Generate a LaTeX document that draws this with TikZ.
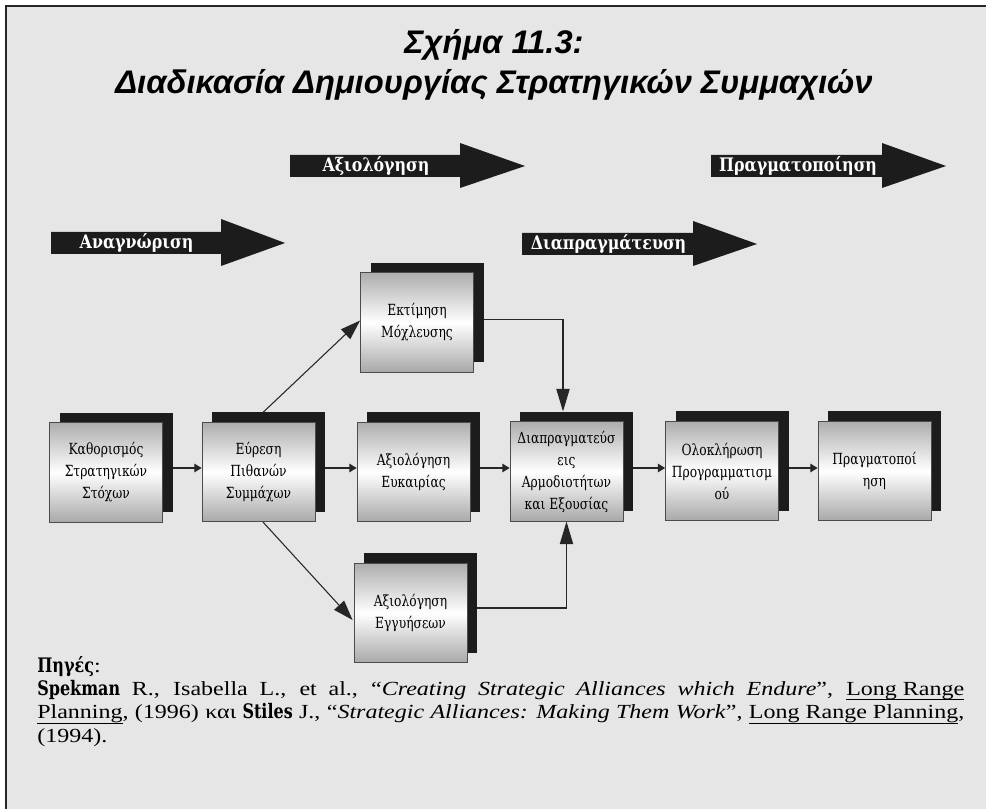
\documentclass[tikz,border=0pt]{standalone}
\usepackage{fontspec}
\setmainfont{Liberation Serif}
\newfontfamily\titlefont{Liberation Sans}
\newfontfamily\boxfont[FakeStretch=0.8]{DejaVu Serif}
\newfontfamily\arrowfont[FakeStretch=0.85]{DejaVu Serif}
\newfontfamily\srcfont[FakeStretch=1.2]{Liberation Serif}
\newcommand\myul[1]{\underline{\smash{#1}\rule[-1.5pt]{0pt}{0pt}}}
\usetikzlibrary{arrows.meta,shadows,calc}
\definecolor{bggray}{RGB}{230,230,230}
\definecolor{darkfill}{RGB}{28,28,28}
\begin{document}
\begin{tikzpicture}[x=0.75pt,y=-0.75pt,
  stepbox/.style={draw=black!70, line width=0.6pt,
    top color=black!32, bottom color=black!34, middle color=white,
    minimum width=84.75pt, minimum height=74.5pt, inner sep=1pt,
    align=center, font=\boxfont\fontsize{11.5pt}{16.5pt}\selectfont,
    general shadow={fill=darkfill, shadow xshift=7.5pt, shadow yshift=7.5pt}},
  conn/.style={draw=black!85, line width=0.8pt},
  smalltip/.style={conn, -{Triangle[length=5.5pt,width=6.5pt]}},
  bigtip/.style={conn, -{Triangle[length=15pt,width=10pt]}},
  vtip/.style={conn, -{Triangle[length=17pt,width=10pt]}},
  arrowtext/.style={text=white, font=\arrowfont\bfseries\fontsize{14pt}{16pt}\selectfont, inner sep=0pt},
]
\useasboundingbox (0,0) rectangle (986,809);
\fill[white] (0,0) rectangle (986,809);
\fill[bggray] (6,6) rectangle (986,809);
\draw[line width=1.5pt, black!85] (6,809) -- (6,6) -- (986,6);

% title
\node[align=center, font=\titlefont\bfseries\itshape\fontsize{24.5pt}{30pt}\selectfont] (title) at (494,65)
  {Σχήμα 11.3:\\Διαδικασία Δημιουργίας Στρατηγικών Συμμαχιών};

% big block arrows
\fill[darkfill] (51,232) -- (221,232) -- (221,219) -- (285,243) -- (221,266) -- (221,254) -- (51,254) -- cycle;
\node[arrowtext] (a1) at (136.5,243) {Αναγνώριση};
\fill[darkfill] (290,155) -- (460,155) -- (460,143) -- (525,166) -- (460,188) -- (460,177) -- (290,177) -- cycle;
\node[arrowtext] (a2) at (376,166) {Αξιολόγηση};
\fill[darkfill] (711,155) -- (882,155) -- (882,143) -- (946,166) -- (882,188) -- (882,177) -- (711,177) -- cycle;
\node[arrowtext] (a3) at (798,166) {Πραγματοποίηση};
\fill[darkfill] (522,233) -- (693,233) -- (693,221) -- (757,244) -- (693,266) -- (693,255) -- (522,255) -- cycle;
\node[arrowtext] (a4) at (608.5,244) {Διαπραγμάτευση};

% boxes
\node[stepbox] (b1) at (106,472.5) {Καθορισμός\\Στρατηγικών\\Στόχων};
\node[stepbox] (b2) at (258.5,472) {Εύρεση\\Πιθανών\\Συμμάχων};
\node[stepbox] (b3) at (413.5,472) {Αξιολόγηση\\Ευκαιρίας};
\node[stepbox] (b4) at (566.5,471.5) {Διαπραγματεύσ\\εις\\Αρμοδιοτήτων\\και Εξουσίας};
\node[stepbox] (b5) at (722,471) {Ολοκλήρωση\\Προγραμματισμ\\ού};
\node[stepbox] (b6) at (874.5,471) {Πραγματοποί\\ηση};
\node[stepbox] (b7) at (417,322.5) {Εκτίμηση\\Μόχλευσης};
\node[stepbox] (b8) at (410.5,613) {Αξιολόγηση\\Εγγυήσεων};

% connectors
\coordinate (s12) at ($(b1.east)+(10,-4.5)$);
\draw[smalltip] (s12) -- (s12 -| b2.west);
\coordinate (s23) at ($(b2.east)+(10,-4)$);
\draw[smalltip] (s23) -- (s23 -| b3.west);
\coordinate (s34) at ($(b3.east)+(10,-4)$);
\draw[smalltip] (s34) -- (s34 -| b4.west);
\coordinate (s45) at ($(b4.east)+(10,-3.5)$);
\draw[smalltip] (s45) -- (s45 -| b5.west);
\coordinate (s56) at ($(b5.east)+(10,-3)$);
\draw[smalltip] (s56) -- (s56 -| b6.west);

\coordinate (u0) at ($(b2.north)+(4.5,-9.5)$);
\draw[bigtip] (u0) -- ($(b7.west)+(0,-2)$);
\coordinate (d0) at ($(b2.south)+(4.5,0)$);
\draw[bigtip] (d0) -- ($(b8.west)+(-1,7)$);

\coordinate (t0) at ($(b7.east)+(10,-3)$);
\coordinate (t1) at ($(b4.north)+(-3.5,-10)$);
\draw[vtip] (t0) -| (t1);
\coordinate (g0) at ($(b8.east)+(10,-5)$);
\draw[vtip] (g0) -| (b4.south);

% sources
\node[anchor=north west, text width=695.25pt, align=justify, inner sep=0pt,
      font=\srcfont\fontsize{15pt}{17.5pt}\selectfont] (src) at (37,656)
{{\boxfont\bfseries Πηγές}:\\
{\boxfont\bfseries Spekman} R., Isabella L., et al., “\textit{Creating Strategic Alliances which Endure}”, \myul{Long Range}\linebreak
\myul{Planning}, (1996) και {\boxfont\bfseries Stiles} J., “\textit{Strategic Alliances: Making Them Work}”, \myul{Long Range Planning},\linebreak
(1994).};
\end{tikzpicture}
\end{document}
